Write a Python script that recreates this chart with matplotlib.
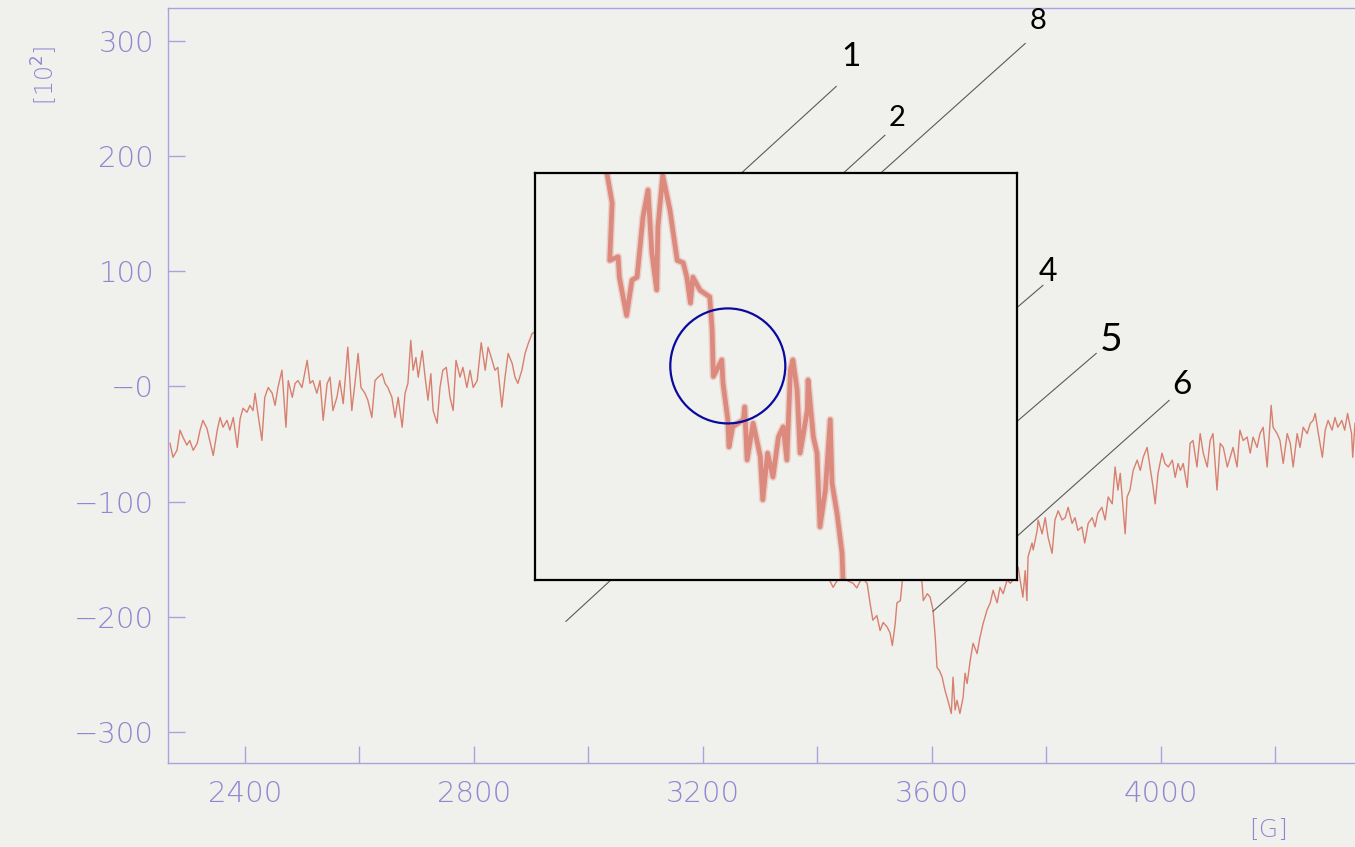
import matplotlib
matplotlib.use("Agg")
import matplotlib.pyplot as plt
from matplotlib.patches import Ellipse

# ---------------- data ----------------
# main EPR trace: (field [G], signal [10^2])
spectrum_low = [
    (2269.5, -49.5), (2274.7, -61.6), (2281.7, -55.5), (2287, -38), (2292, -44), (2299, -51),
    (2304, -47), (2310, -55.5), (2317, -49.5), (2322, -38), (2327, -29.5), (2334, -36.5),
    (2339, -47), (2345, -60), (2352, -38), (2357, -27), (2362, -35.5), (2369, -29.5),
    (2374, -38), (2380, -27), (2387, -53), (2392, -28), (2397, -19), (2404, -22.5),
    (2409, -16.5), (2414.5, -21), (2418, -6), (2423, -23.5), (2430, -47), (2435, -9.5),
    (2441, -1), (2448, -6), (2453, -16.5), (2458, -1), (2465, 14), (2472, -35.5),
    (2476, 5), (2483, -9.5), (2488, 2.6), (2493, 5), (2500, -1), (2509, 22.6),
    (2514, 2.6), (2519, 5), (2526, -6), (2531.5, 5), (2537, -29.5), (2544, 2.6),
    (2549, 8), (2554, -21), (2561, -9.5), (2566, 5), (2572, -15),
    (2580, 34), (2587, -21), (2593, 5), (2598, 28.6), (2603, -1), (2610, -6),
    (2615, -12), (2622, -27), (2627.5, 5), (2633, 8), (2640, 11), (2645, 2.6),
    (2650, -1), (2657, -9.5), (2662.5, -27), (2668, -9.5), (2675, -35.5), (2680, -6),
    (2685, 2.6), (2690, 40), (2694, 14), (2699, 25), (2703, 8), (2710, 31),
    (2715, 8), (2720, -12), (2725, 11), (2729, -21), (2736, -32), (2741, -1),
    (2746, 14), (2752, 16.5), (2758.5, -9.5), (2764, -21), (2769, 22.6), (2776, 8),
    (2781, 16.5), (2788, -1), (2793.5, 14), (2799, -1), (2806, 5), (2813, 38),
    (2820, 14), (2825, 34), (2832, 22.6), (2837, 14), (2842, 16.5), (2849, -18),
    (2854.6, 8), (2860, 28.6), (2867, 20), (2872, 8), (2877, 2.6), (2884, 14),
    (2889.6, 28.6), (2895, 37), (2902, 46),
]
spectrum_mid = [
    (2951, 57), (3020, 118), (3108, 161), (3195, 75), (3282, -30), (3370, -116),
    (3427.5, -174.5), (3443, -162), (3445, -167), (3462.5, -171), (3469, -175), (3478, -166),
    (3487, -171), (3492, -188), (3497, -203), (3504, -199), (3509.6, -212), (3515, -205),
    (3522, -209), (3527, -214), (3531, -225), (3536, -206), (3539, -188), (3545, -186),
    (3548, -171), (3550, -160), (3557, -140), (3572, -150), (3583, -171), (3585, -186),
    (3592, -180), (3597, -183), (3602, -194), (3606, -218), (3609, -244), (3613, -246.5),
    (3618, -252.5), (3623, -264), (3628, -272.6), (3634, -284), (3637, -252.5), (3640.6, -281),
    (3644, -272.6), (3649, -284), (3654.6, -270), (3658, -249), (3661.6, -258), (3667, -238),
    (3672, -223), (3679, -232), (3684, -218), (3689.5, -206), (3696.5, -194), (3702, -188),
    (3707, -177), (3714, -188), (3719, -174.5), (3724.5, -180), (3731.5, -168), (3737, -171),
    (3745, -166),
]
spectrum_high = [
    (3750.7, -157), (3759, -183), (3763, -160), (3766, -186), (3768, -148), (3775, -136),
    (3777, -142), (3784, -125), (3785.6, -116), (3792.6, -128), (3798, -114), (3803, -131),
    (3810, -145), (3815, -116), (3820.6, -108), (3827.5, -116), (3833, -114), (3838, -105),
    (3845, -119), (3850, -114), (3855, -125), (3862, -122), (3867, -136), (3873, -119),
    (3880, -114), (3885, -122), (3890, -110), (3897, -105), (3902.6, -116), (3908, -96),
    (3915, -102), (3920, -70), (3925, -90), (3929, -75.5), (3937.6, -128), (3941, -96),
    (3946, -90), (3951.6, -73), (3958.6, -64), (3964, -73), (3969, -61.6), (3976, -53),
    (3981, -70), (3986.5, -87.7), (3990, -102), (3995, -75.5), (4002, -58), (4007, -67),
    (4013, -70), (4020, -64), (4025, -79), (4030, -67),
    (4034, -73), (4039, -67), (4046, -87.7), (4051, -49.5), (4056, -47), (4063, -70),
    (4068.6, -41), (4074, -58), (4081, -70), (4086, -47), (4091, -41), (4098, -90),
    (4103.5, -49.5), (4109, -53), (4116, -70), (4121, -61.6), (4126, -53), (4133, -70),
    (4138, -38), (4143.6, -47), (4150.6, -44), (4156, -58), (4161, -44), (4168, -53),
    (4173, -41), (4178.6, -35.5), (4185.6, -70), (4192.6, -16.5), (4196, -35.5), (4203, -41),
    (4208, -47), (4213.6, -67), (4220.6, -41), (4226, -49.5), (4231, -70), (4238, -41),
    (4243, -53), (4248.5, -35.5), (4255.5, -41), (4261, -32), (4266, -29.5), (4269.5, -23.5),
    (4275, -41), (4282, -61.6), (4287, -38), (4292, -29.5), (4299, -38), (4304, -27),
    (4309, -35.5), (4316, -29.5), (4321, -38), (4326, -23.5), (4333, -41), (4335, -61.6),
    (4339, -32),
]

# magnified inset trace (inset's own field / signal scale)
inset_trace = [
    (3109, 175), (3110, 168), (3114, 145), (3112, 97), (3119, 100), (3120, 83),
    (3126, 51), (3130.5, 80.6), (3134.7, 83), (3139.6, 133), (3143.8, 155.8), (3147, 103),
    (3151, 72.3), (3152, 125), (3156, 168), (3162, 139), (3168, 97), (3173, 95),
    (3176, 83), (3179, 61.4), (3181, 83), (3187, 72), (3195, 66.5), (3197, 38.9),
    (3198, 0), (3205, 13.9), (3206, -5.4), (3210, -36), (3211, -58.8), (3214, -42),
    (3223, -36), (3224, -25.4), (3226, -69.7), (3231, -39), (3237, -67), (3239, -103),
    (3243, -64), (3247.5, -84), (3252, -50.5), (3256, -42), (3259, -69.7), (3262, 5.5),
    (3264, 13.9), (3267.5, -11), (3270, -64), (3276, -28), (3276.6, -2.9), (3281, -50.5),
    (3284, -64), (3286.5, -125.6), (3291, -94.7), (3295, -36), (3296.5, -89), (3300.6, -114),
    (3304.8, -147.5), (3305.6, -170), (3306, -180),
]

y_ticks = [-300, -200, -100, 0, 100, 200, 300]
y_tick_labels = ["\u2212300", "\u2212200", "\u2212100", "\u22120", "100", "200", "300"]
x_ticks = [2400, 2600, 2800, 3000, 3200, 3400, 3600, 3800, 4000, 4200]
x_tick_labels = ["2400", "", "2800", "", "3200", "", "3600", "", "4000", ""]

# peak labels: (text, label position, leader start, leader end)  in main-axis data coords
peak_labels = [
    ("1", (3459, 285.6), (3433, 260.4), (3104, 111)),
    ("8", (3785.6, 316.8), (3763, 297.7), (3405, 138)),
    ("2", (3539, 232.6), (3518, 218), (3370, 151)),
    ("4", (3803, 99), (3794, 87.7), (3702, 48.6)),
    ("5", (3913, 40), (3887, 28.6), (3649, -73)),
    ("6", (4037, 0.9), (4014.4, -12.2), (3602, -195.3)),
]
label_sizes = {"1": 24, "8": 21, "2": 21, "4": 23, "5": 28, "6": 24}
extra_leader = ((2961, -204), (3090, -145))

# ---------------- style ----------------
paper = "#f0f0ec"
axis_col = "#aba2e0"
text_col = "#9186d2"
trace_col = "#d8806f"

fig = plt.figure(figsize=(13.55, 8.47), dpi=100, facecolor=paper)
ax = fig.add_axes([168 / 1355, 84 / 847, 1 - 168 / 1355, 755 / 847], facecolor=paper, zorder=0)

for seg in (spectrum_low + spectrum_mid + spectrum_high,):
    xs = [p[0] for p in seg]
    ys = [p[1] for p in seg]
    ax.plot(xs, ys, color=trace_col, lw=1.0, solid_joinstyle="round")

ax.set_xlim(2266, 4339)
ax.set_ylim(-327, 328.5)
ax.spines["right"].set_visible(False)
for s in ("left", "bottom", "top"):
    ax.spines[s].set_color(axis_col)
    ax.spines[s].set_linewidth(1.0)

ax.set_yticks(y_ticks)
ax.set_yticklabels(y_tick_labels)
ax.set_xticks(x_ticks)
ax.set_xticklabels(x_tick_labels)
ax.tick_params(axis="both", direction="in", length=12.5, width=1.0, color=axis_col,
               labelcolor=text_col, labelsize=21)
ax.tick_params(axis="y", pad=10)
ax.tick_params(axis="x", pad=12)
for lbl in ax.get_xticklabels() + ax.get_yticklabels():
    lbl.set_fontweight("light")

fig.text(45 / 1355, 1 - 75 / 847, "[10$^{2}$]", rotation=90, ha="center", va="center",
         color=text_col, fontsize=17, fontweight="light")
fig.text(1268 / 1355, 1 - 830 / 847, "[G]", ha="center", va="center",
         color=text_col, fontsize=18, fontweight="light")

# leader lines and numbers
for lab, (tx, ty), (x0, y0), (x1, y1) in peak_labels:
    ax.plot([x0, x1], [y0, y1], color="#5a5a5a", lw=0.8, zorder=3, clip_on=False)
    ax.text(tx, ty, lab, ha="center", va="center", fontsize=label_sizes[lab],
            family=["Lato", "DejaVu Sans"], color="black", zorder=4)
(ex0, ey0), (ex1, ey1) = extra_leader
ax.plot([ex0, ex1], [ey0, ey1], color="#5a5a5a", lw=0.8, zorder=3)

# ---------------- inset ----------------
ins = fig.add_axes([535 / 1355, 267 / 847, 482 / 1355, 407 / 847], facecolor=paper, zorder=5)
ix = [p[0] for p in inset_trace]
iy = [p[1] for p in inset_trace]
ins.plot(ix, iy, color="#e6aaa0", lw=5.5, alpha=0.45, solid_joinstyle="round", solid_capstyle="round")
ins.plot(ix, iy, color="#dc8a7e", lw=3.4, solid_joinstyle="round", solid_capstyle="round")
ins.set_xlim(3050, 3450)
ins.set_ylim(-170, 170)
ins.set_xticks([])
ins.set_yticks([])
for s in ins.spines.values():
    s.set_color("black")
    s.set_linewidth(1.6)
circle = Ellipse((0.400, 0.526), 0.2386, 0.2826, transform=ins.transAxes,
                 fill=False, edgecolor="#0a0aa0", lw=1.6, zorder=6)
ins.add_patch(circle)

fig.savefig("out.png", dpi=100, facecolor=paper)
